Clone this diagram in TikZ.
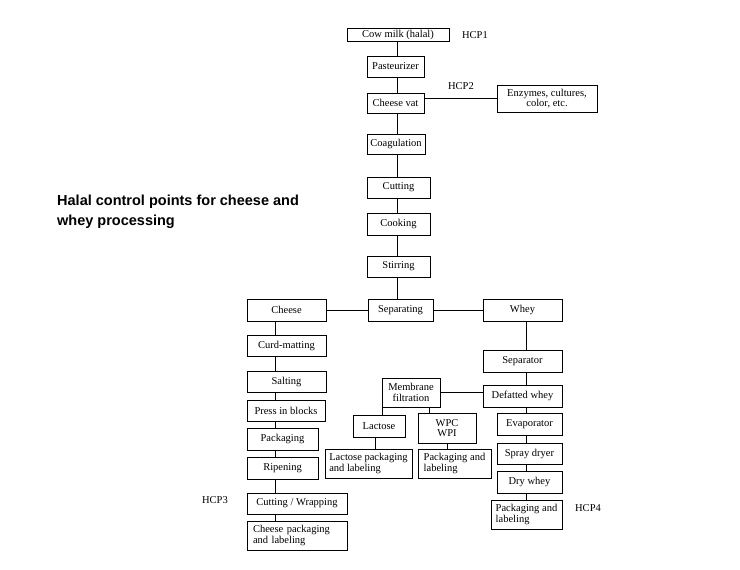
\documentclass[tikz,border=0pt]{standalone}
\usepackage{fontspec}
\setmainfont{Liberation Serif}
\newfontfamily\titlefont{Liberation Sans}
\begin{document}
\begin{tikzpicture}[x=1pt,y=-1pt,
box/.style={draw,line width=1pt,inner sep=1pt,font=\fontsize{10.5}{10.5}\selectfont},
lbox/.style={box,align=left},
cbox/.style={box,align=center},
hcp/.style={font=\fontsize{10.5}{11}\selectfont},
link/.style={line width=1pt},
]
    \useasboundingbox (0,0) rectangle (740,570);
    % title
    \node [anchor=north west,inner sep=0pt,align=left,font=\titlefont\bfseries\fontsize{14.5}{20}\selectfont] (title) at (57,195)
        {Halal control points for cheese and\\whey processing};
    % main column
    \node [box,minimum width=102,minimum height=13] (milk) at (398,34.5) {Cow milk (halal)};
    \node [box,minimum width=57,minimum height=21] (past) at (395.5,66.5) {Pasteurizer};
    \node [box,minimum width=57,minimum height=20] (vat) at (395.5,103) {Cheese vat};
    \node [cbox,minimum width=100,minimum height=27] (enz) at (547,98.5) {Enzymes, cultures,\\color, etc.};
    \node [box,minimum width=58,minimum height=20] (coag) at (396,144) {Coagulation};
    \node [box,minimum width=63,minimum height=21] (cut) at (398.5,187.5) {Cutting};
    \node [box,minimum width=63,minimum height=22] (cook) at (398.5,224) {Cooking};
    \node [box,minimum width=63,minimum height=21] (stir) at (398.5,266.5) {Stirring};
    \node [box,minimum width=65,minimum height=22] (sep) at (400.5,310) {Separating};
    % cheese side
    \node [box,minimum width=79,minimum height=22] (cheese) at (286.5,310) {Cheese};
    \node [box,minimum width=79,minimum height=21] (curd) at (286.5,345.5) {Curd-matting};
    \node [box,minimum width=79,minimum height=21] (salt) at (286.5,381.5) {Salting};
    \node [box,minimum width=78,minimum height=21] (press) at (286,410.5) {Press in blocks};
    \node [box,minimum width=71,minimum height=22] (pack) at (282.5,439) {Packaging};
    \node [box,minimum width=71,minimum height=22] (ripen) at (282.5,468) {Ripening};
    \node [box,minimum width=100,minimum height=21] (cutwrap) at (297,503.5) {Cutting / Wrapping};
    \node [lbox,minimum width=100,minimum height=29,text width=88] (cheesepack) at (297,535.5) {Cheese packaging\\and labeling};
    % whey side
    \node [box,minimum width=79,minimum height=22] (whey) at (522.5,310) {Whey};
    \node [box,minimum width=79,minimum height=22] (separator) at (522.5,361) {Separator};
    \node [box,minimum width=79,minimum height=22] (defat) at (522.5,396) {Defatted whey};
    \node [cbox,minimum width=58,minimum height=29] (memb) at (411,392.5) {Membrane\\filtration};
    \node [box,minimum width=52,minimum height=22] (lactose) at (379,426) {Lactose};
    \node [cbox,minimum width=58,minimum height=30] (wpc) at (447,428) {WPC\\WPI};
    \node [lbox,minimum width=87,minimum height=29] (lacpack) at (368.5,463.5) {Lactose packaging\\and labeling};
    \node [lbox,minimum width=73,minimum height=29] (wpcpack) at (454.5,463.5) {Packaging and\\labeling};
    \node [lbox,minimum width=71,minimum height=29] (wheypack) at (526.5,514.5) {Packaging and\\labeling};
    \node [box,minimum width=65,minimum height=22] (evap) at (529.5,424) {Evaporator};
    \node [box,minimum width=65,minimum height=21] (spray) at (529.5,453.5) {Spray dryer};
    \node [box,minimum width=65,minimum height=22] (dry) at (529.5,482) {Dry whey};
    % control points
    \node [hcp] (hcp1) at (475,35) {HCP1};
    \node [hcp] (hcp2) at (461,86) {HCP2};
    \node [hcp] (hcp3) at (215,500) {HCP3};
    \node [hcp] (hcp4) at (588,508) {HCP4};
    % connectors
    \coordinate (spine) at (397,0);
    \coordinate (cspine) at (275,0);
    \coordinate (wspine) at (526,0);
    \foreach \a/\b in {milk/past,past/vat,vat/coag,coag/cut,cut/cook,cook/stir,stir/sep}
        \draw [link] (spine |- \a.south) -- (spine |- \b.north);
    \foreach \a/\b in {cheese/curd,curd/salt,salt/press,press/pack,pack/ripen,ripen/cutwrap,cutwrap/cheesepack}
        \draw [link] (cspine |- \a.south) -- (cspine |- \b.north);
    \foreach \a/\b in {whey/separator,separator/defat,defat/evap,evap/spray,spray/dry,dry/wheypack}
        \draw [link] (wspine |- \a.south) -- (wspine |- \b.north);
    \draw [link] (vat.east |- enz.west) -- (enz.west);
    \draw [link] (sep.west) -- (cheese.east);
    \draw [link] (sep.east) -- (whey.west);
    \draw [link] (defat.west |- memb.east) -- (memb.east);
    \draw [link] ([xshift=1pt]memb.south west) -- ([xshift=1pt]memb.south west |- lactose.north);
    \draw [link] ([xshift=-11pt]memb.south east) -- ([xshift=-11pt]memb.south east |- wpc.north);
    \draw [link] ([xshift=-4pt]lactose.south) -- ([xshift=-4pt]lactose.south |- lacpack.north);
    \draw [link] (wpc.south) -- (wpc.south |- wpcpack.north);
\end{tikzpicture}
\end{document}
